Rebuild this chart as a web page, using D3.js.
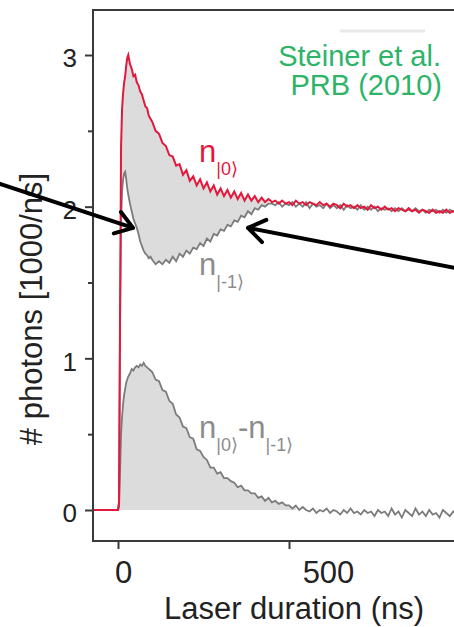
<!DOCTYPE html>
<html>
<head>
<meta charset="utf-8">
<script src="https://cdn.jsdelivr.net/npm/d3@7"></script>
<style>
  body { margin: 0; background: #fff; }
  svg { display: block; font-family: "Liberation Sans", Arial, sans-serif; }
</style>
</head>
<body>
<div id="plot"></div>
<script>
// data (time in ns, photons in 1000/ns)
const timeNs = [-73, -40, -10, 0, 3, 6, 9, 12, 15, 18, 21, 24, 27, 30, 35, 40, 45, 50, 55, 60, 65, 70, 75, 80, 85, 90, 95,
  100, 110, 120, 130, 140, 150, 160, 170, 180, 190, 200, 210, 220, 230, 240, 250, 260, 270, 280, 290,
  300, 310, 320, 330, 340, 350, 360, 370, 380, 390, 400, 410, 420, 430, 440, 450, 460, 470, 480, 490,
  500, 510, 520, 530, 540, 550, 560, 570, 580, 590, 600, 610, 620, 630, 640, 650, 660, 670, 680, 690,
  700, 710, 720, 730, 740, 750, 760, 770, 780, 790, 800, 810, 820, 830, 840, 850, 860, 870, 880, 890,
  900, 910, 920, 930, 940, 950, 960, 970, 980, 990];

const n0 = [0, 0, 0, 0, 0.05, 1.3, 2.4, 2.65, 2.75, 2.82, 2.86, 2.93, 2.98, 3.00, 2.94, 2.91, 2.86, 2.87, 2.82, 2.80, 2.76, 2.74, 2.70, 2.66, 2.65, 2.60, 2.58,
  2.56, 2.50, 2.48, 2.42, 2.40, 2.34, 2.33, 2.27, 2.28, 2.21, 2.24, 2.17, 2.20, 2.14, 2.18, 2.12, 2.16, 2.10, 2.14, 2.08,
  2.12, 2.07, 2.11, 2.06, 2.10, 2.05, 2.09, 2.04, 2.08, 2.04, 2.07, 2.03, 2.06, 2.03, 2.05, 2.03, 2.04, 2.02, 2.04, 2.02,
  2.03, 2.01, 2.04, 2.02, 2.03, 2.01, 2.03, 2.02, 2.01, 2.03, 2.01, 2.02, 2.00, 2.02, 2.01, 1.99, 2.02, 2.00, 2.01, 1.99,
  2.01, 1.99, 2.00, 1.98, 2.01, 1.99, 2.00, 1.98, 2.00, 1.98, 1.99, 1.97, 1.99, 1.98, 1.97, 1.99, 1.97, 1.98, 1.96, 1.98,
  1.97, 1.96, 1.98, 1.96, 1.97, 1.96, 1.98, 1.96, 1.97, 1.96];

const nm1 = [0, 0, 0, 0, 0.05, 1.2, 1.9, 2.1, 2.18, 2.22, 2.23, 2.18, 2.12, 2.08, 2.02, 1.97, 1.92, 1.89, 1.86, 1.82, 1.77, 1.74, 1.71, 1.69, 1.68, 1.66, 1.67,
  1.65, 1.62, 1.64, 1.62, 1.65, 1.63, 1.67, 1.64, 1.69, 1.67, 1.71, 1.69, 1.73, 1.72, 1.76, 1.74, 1.79, 1.77, 1.82, 1.81,
  1.85, 1.84, 1.88, 1.87, 1.91, 1.90, 1.94, 1.93, 1.97, 1.95, 1.99, 1.98, 2.01, 2.00, 2.02, 2.02, 2.01, 2.03, 2.00, 2.02,
  2.01, 2.03, 2.00, 2.02, 2.00, 2.03, 1.99, 2.02, 2.00, 2.01, 1.99, 2.02, 1.99, 2.01, 1.99, 2.01, 1.98, 2.01, 1.99, 2.00,
  1.98, 2.01, 1.98, 2.00, 1.98, 2.00, 1.97, 1.99, 1.98, 1.99, 1.97, 1.99, 1.97, 1.99, 1.97, 1.98, 1.97, 1.99, 1.97, 1.98,
  1.96, 1.98, 1.97, 1.98, 1.96, 1.98, 1.96, 1.98, 1.97, 1.97];

const nDiff = [0, 0, 0, 0, 0.02, 0.25, 0.5, 0.62, 0.70, 0.76, 0.80, 0.84, 0.86, 0.88, 0.90, 0.93, 0.92, 0.94, 0.95, 0.94, 0.96, 0.95, 0.97, 0.95, 0.94, 0.93, 0.92,
  0.91, 0.86, 0.85, 0.79, 0.78, 0.72, 0.70, 0.63, 0.61, 0.55, 0.54, 0.48, 0.47, 0.40, 0.39, 0.35, 0.33, 0.28, 0.28, 0.24,
  0.25, 0.21, 0.21, 0.19, 0.18, 0.15, 0.16, 0.13, 0.13, 0.11, 0.11, 0.08, 0.09, 0.06, 0.08, 0.05, 0.06, 0.04, 0.05, 0.03,
  0.03, 0.01, 0.03, 0.00, 0.02, 0.00, -0.01, 0.01, -0.02, 0.00, -0.01, 0.01, -0.02, 0.00, -0.01, -0.03, 0.00, -0.02, 0.01, -0.02,
  -0.01, -0.03, 0.00, -0.02, -0.01, -0.04, 0.00, -0.02, -0.01, -0.04, 0.01, -0.03, -0.01, -0.05, 0.00, -0.02, -0.04, 0.01, -0.03, -0.01,
  -0.04, 0.00, -0.03, -0.02, -0.05, 0.00, -0.02, -0.04, -0.01, -0.03];

const xTicks = [0, 500];
const yTicks = [0, 1, 2, 3];
const yMinorTicks = [0.5, 1.5, 2.5];

// arrows, in data units (tail far outside the frame)
const arrowTails = [{t: -345, v: 2.15}, {t: 1000, v: 1.59}];
const arrowTips = [{t: 44, v: 1.86}, {t: 380, v: 1.86}];

const width = 454, height = 627;
const frame = {left: 93, top: 10, right: 462, bottom: 541};
const red = "#e2183c", grey = "#7b7b7b", greyText = "#8c8c8c", fill = "#dcdcdc";

const svg = d3.select("#plot").append("svg")
  .attr("width", width)
  .attr("height", height);

const x = d3.scaleLinear().domain([0, 500]).range([118, 289]);
const y = d3.scaleLinear().domain([0, 3]).range([510, 55]);

const rows = timeNs.map((t, i) => ({t: t, a: n0[i], b: nm1[i], d: nDiff[i]}));

svg.append("clipPath").attr("id", "clip")
  .append("rect")
  .attr("x", frame.left).attr("y", frame.top)
  .attr("width", frame.right - frame.left).attr("height", frame.bottom - frame.top);

const plot = svg.append("g").attr("clip-path", "url(#clip)");

// shaded areas
plot.append("path")
  .datum(rows.filter(r => r.t <= 440))
  .attr("fill", fill)
  .attr("d", d3.area()
    .x(r => x(r.t))
    .y0(r => y(r.b))
    .y1(r => y(Math.max(r.a, r.b))));

plot.append("path")
  .datum(rows.filter(r => r.t <= 520))
  .attr("fill", fill)
  .attr("d", d3.area()
    .x(r => x(r.t))
    .y0(y(0))
    .y1(r => y(Math.max(r.d, 0))));

const line = key => d3.line().x(r => x(r.t)).y(r => y(r[key]));

plot.append("path").datum(rows)
  .attr("fill", "none").attr("stroke", grey).attr("stroke-width", 1.8)
  .attr("d", line("d"));
plot.append("path").datum(rows)
  .attr("fill", "none").attr("stroke", grey).attr("stroke-width", 1.8)
  .attr("d", line("b"));
plot.append("path").datum(rows)
  .attr("fill", "none").attr("stroke", red).attr("stroke-width", 2)
  .attr("d", line("a"));

// axes
const yAxis = svg.append("g")
  .attr("transform", "translate(" + frame.left + ",0)")
  .call(d3.axisLeft(y).tickValues(yTicks).tickSize(8).tickPadding(8).tickFormat(d3.format("d")));
yAxis.selectAll("text").attr("dy", "0.46em");

const yMinor = svg.append("g")
  .attr("transform", "translate(" + frame.left + ",0)")
  .call(d3.axisLeft(y).tickValues(yMinorTicks).tickSize(5).tickFormat(""));

const xAxis = svg.append("g")
  .attr("transform", "translate(0," + frame.bottom + ")")
  .call(d3.axisBottom(x).tickValues(xTicks).tickSize(8).tickFormat(d3.format("d")));
// tick labels sit a bit right of their ticks in the original
xAxis.selectAll("text").attr("y", 42).attr("dy", null)
  .attr("dx", d => d === 0 ? 5 : 39);

[yAxis, yMinor, xAxis].forEach(g => {
  g.select(".domain").remove();
  g.selectAll("line").attr("stroke", "#3a3a3a").attr("stroke-width", 2);
  g.selectAll("text").attr("fill", "#222").attr("font-family", "Liberation Sans, Arial, sans-serif");
});
yAxis.selectAll("text").attr("font-size", 26);
xAxis.selectAll("text").attr("font-size", 31);

svg.append("path")
  .attr("d", "M" + frame.right + "," + frame.top + "H" + frame.left + "V" + frame.bottom + "H" + frame.right)
  .attr("fill", "none").attr("stroke", "#3a3a3a").attr("stroke-width", 2);

// axis titles
svg.append("text")
  .attr("transform", "translate(42,309) rotate(-90)")
  .attr("text-anchor", "middle").attr("font-size", 31).attr("fill", "#222")
  .text("# photons [1000/ns]");

svg.append("text")
  .attr("x", 294).attr("y", 619)
  .attr("text-anchor", "middle").attr("font-size", 31).attr("fill", "#222")
  .text("Laser duration (ns)");

// reference
svg.append("line")
  .attr("x1", 340).attr("x2", 425).attr("y1", 31).attr("y2", 31)
  .attr("stroke", "#e8e8e8").attr("stroke-width", 3);
svg.append("text")
  .attr("x", 441).attr("y", 66)
  .attr("text-anchor", "end").attr("font-size", 29).attr("fill", "#2db468")
  .text("Steiner et al.");
svg.append("text")
  .attr("x", 442).attr("y", 95)
  .attr("text-anchor", "end").attr("font-size", 29).attr("fill", "#2db468")
  .text("PRB (2010)");

// curve labels
function label(xp, yp, color, parts) {
  const t = svg.append("text").attr("x", xp).attr("y", yp).attr("fill", color).attr("font-size", 31);
  parts.forEach(p => {
    if (p.sub) {
      t.append("tspan").attr("font-size", 18).attr("dy", 13).text(p.s);
    } else {
      t.append("tspan").attr("dy", p.back ? -13 : 0).text(p.s);
    }
  });
}
label(199, 162, red, [{s: "n"}, {s: "|0\u27E9", sub: true}]);
label(199, 275, greyText, [{s: "n"}, {s: "|-1\u27E9", sub: true}]);
label(199, 438, greyText, [{s: "n"}, {s: "|0\u27E9", sub: true}, {s: "-n", back: true}, {s: "|-1\u27E9", sub: true}]);

// arrows
arrowTails.forEach((tail, i) => {
  const x0 = x(tail.t), y0 = y(tail.v);
  const x1 = x(arrowTips[i].t), y1 = y(arrowTips[i].v);
  const ang = Math.atan2(y1 - y0, x1 - x0);
  const len = 20, spread = 0.6;
  const a1 = [x1 - len * Math.cos(ang - spread), y1 - len * Math.sin(ang - spread)];
  const a2 = [x1 - len * Math.cos(ang + spread), y1 - len * Math.sin(ang + spread)];
  svg.append("path")
    .attr("d", "M" + x0 + "," + y0 + "L" + x1 + "," + y1 +
      "M" + a1 + "L" + x1 + "," + y1 + "L" + a2)
    .attr("fill", "none").attr("stroke", "#000").attr("stroke-width", 4)
    .attr("stroke-linecap", "round").attr("stroke-linejoin", "round");
});
</script>
</body>
</html>
